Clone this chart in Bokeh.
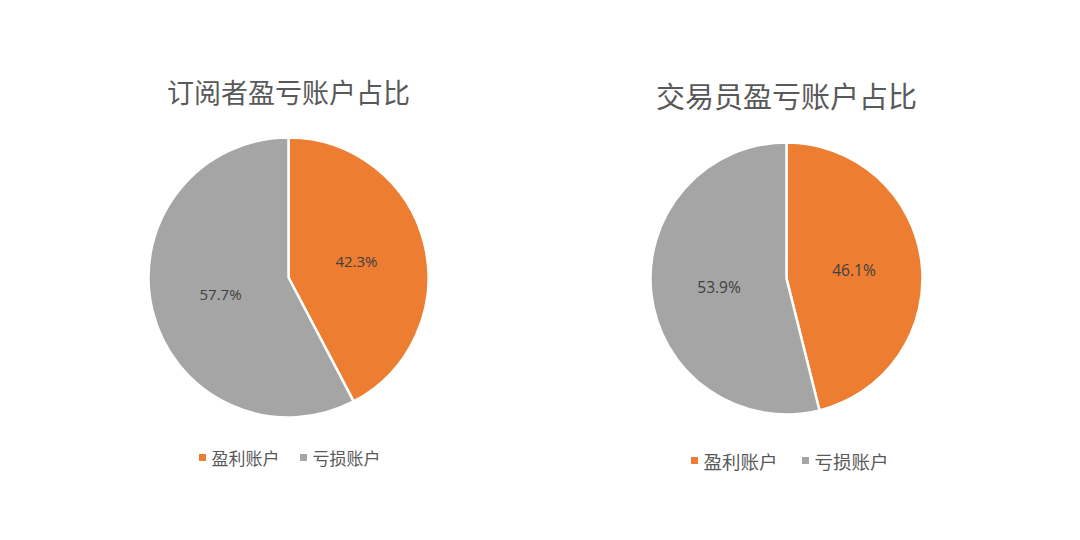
import math
from bokeh.plotting import figure
from bokeh.models import Range1d
from bokeh.core.properties import value
from bokeh.embed import file_html
from bokeh.resources import INLINE

# ---- data ----
titles = ["订阅者盈亏账户占比", "交易员盈亏账户占比"]
categories = ["盈利账户", "亏损账户"]
subscriber_pct = [42.3, 57.7]
trader_pct = [46.1, 53.9]
colors = ["#ED7D31", "#A5A5A5"]

# ---- layout (image pixel coordinates) ----
W, H = 1064, 524
charts = [
    dict(title=titles[0], values=subscriber_pct, cx=288, cy=277, r=140,
         ty=91, tsize="27px", ly=457, lsize="17px", lx=[202, 303], lfs="15px"),
    dict(title=titles[1], values=trader_pct, cx=786, cy=278, r=136,
         ty=94, tsize="29px", ly=460, lsize="18.5px", lx=[694, 805], lfs="15.5px"),
]

def Y(img_y):
    return 540 - img_y

p = figure(width=W, height=H, output_backend="svg", toolbar_location=None,
           x_range=Range1d(0, W), y_range=Range1d(540 - H, 540),
           min_border=0, background_fill_color="white", border_fill_color="white")
p.axis.visible = False
p.grid.visible = False
p.outline_line_color = None

for c in charts:
    vals = c["values"]
    total = sum(vals)
    angle = math.pi / 2
    # slices go clockwise from 12 o'clock
    for v, col in zip(vals, colors):
        sweep = v / total * 2 * math.pi
        a_end = angle
        a_start = angle - sweep
        p.wedge(x=[c["cx"]], y=[Y(c["cy"])], radius=c["r"], start_angle=a_start,
                end_angle=a_end, fill_color=col, line_color="white", line_width=2.5)
        mid = (a_start + a_end) / 2
        lxp = c["cx"] + 0.5 * c["r"] * math.cos(mid)
        lyp = Y(c["cy"]) + 0.5 * c["r"] * math.sin(mid)
        p.text(x=[lxp], y=[lyp], text=[f"{v:.1f}%"], text_align="center",
               text_baseline="middle", text_color="#404040",
               text_font=value("Open Sans"), text_font_size=c["lfs"])
        angle = a_start
    p.text(x=[c["cx"]], y=[Y(c["ty"])], text=[c["title"]], text_align="center",
           text_baseline="middle", text_color="#595959",
           text_font=value("Noto Sans CJK SC"), text_font_size=c["tsize"])
    for cat, col, lx in zip(categories, colors, c["lx"]):
        p.scatter(x=[lx], y=[Y(c["ly"])], marker="square", size=7,
                  fill_color=col, line_color=None)
        p.text(x=[lx + 9], y=[Y(c["ly"])], text=[cat], text_align="left",
               text_baseline="middle", text_color="#595959",
               text_font=value("Noto Sans CJK SC"), text_font_size=c["lsize"])

open("out.html", "w").write(file_html(p, INLINE))
